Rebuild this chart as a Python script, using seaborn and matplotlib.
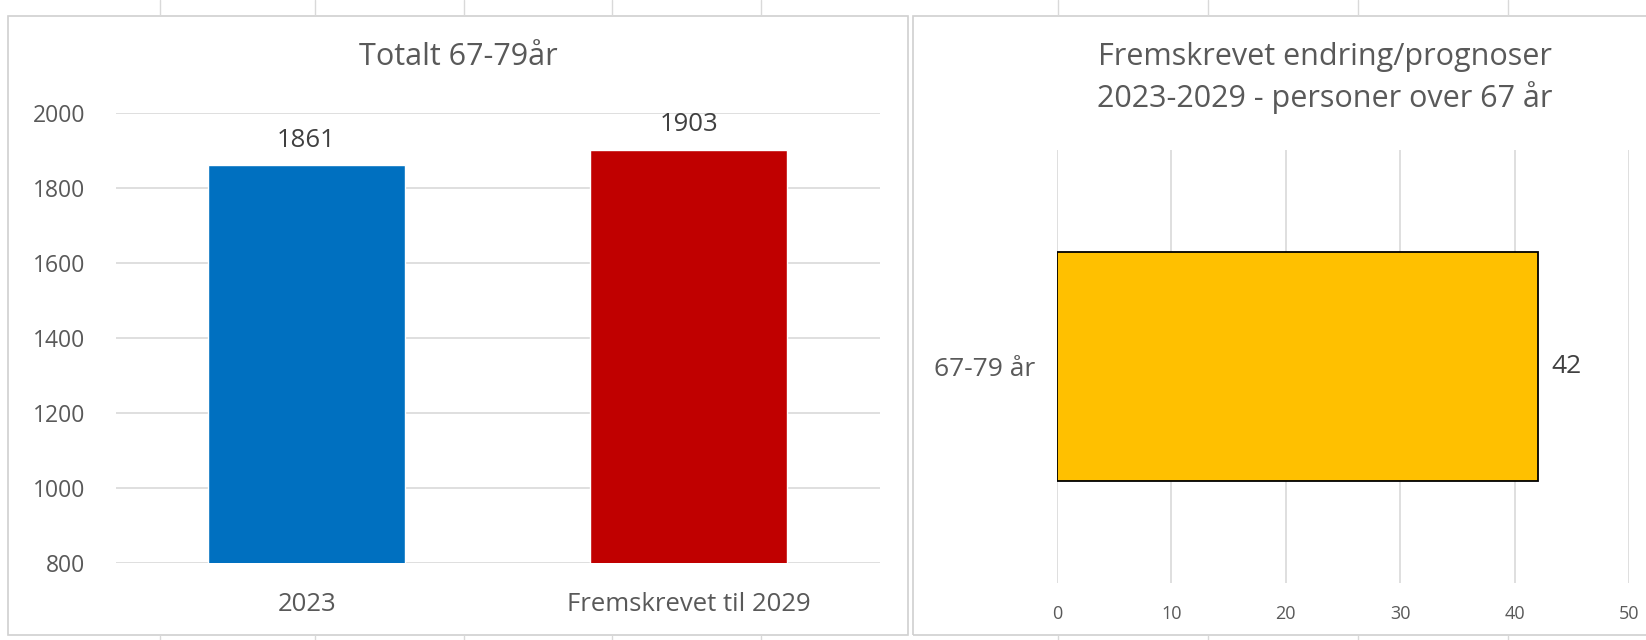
import matplotlib
matplotlib.use("Agg")
import matplotlib.pyplot as plt
import seaborn as sns
from matplotlib.lines import Line2D
from matplotlib.patches import Rectangle

# data
left_categories = ["2023", "Fremskrevet til 2029"]
left_values = [1861, 1903]
left_colors = ["#0070C0", "#C00000"]
left_yticks = [800, 1000, 1200, 1400, 1600, 1800, 2000]

right_categories = ["67-79 år"]
right_values = [42]
right_xticks = [0, 10, 20, 30, 40, 50]

sns.set_theme(style="white")
plt.rcParams["font.family"] = ["Open Sans", "DejaVu Sans"]

text_gray = "#595959"
grid_gray = "#D9D9D9"

fig = plt.figure(figsize=(16.46, 6.4), dpi=100)

# panel frames (excel chart areas) + spreadsheet cell lines
W, H = 1646, 640
def px(x, y):
    return x / W, 1 - y / H

for (x0, x1) in [(8, 908), (913, 1700)]:
    fig.add_artist(Rectangle(px(x0, 635), (x1 - x0) / W, (635 - 16) / H,
                             transform=fig.transFigure, fill=False,
                             edgecolor="#D0D0D0", linewidth=1.2))
for xc in [160, 315, 464, 612, 761, 1058, 1208, 1358, 1508]:
    for (ya, yb) in [(0, 15), (636, 640)]:
        fig.add_artist(Line2D([xc / W, xc / W], [1 - ya / H, 1 - yb / H],
                              transform=fig.transFigure, color="#D9D9D9", lw=1))

# ---- left chart
ax1 = fig.add_axes([0.0702, 0.1209, 0.4642, 0.7019])
sns.barplot(x=left_categories, y=left_values, hue=left_categories,
            palette=left_colors, width=0.515, legend=False, saturation=1, ax=ax1)
ax1.set_ylim(800, 2000)
ax1.set_yticks(left_yticks)
ax1.yaxis.grid(True, color=grid_gray, linewidth=1.2)
ax1.set_axisbelow(True)
for s in ax1.spines.values():
    s.set_visible(False)
ax1.tick_params(axis="y", length=0, labelsize=16.5, labelcolor=text_gray, pad=22)
ax1.tick_params(axis="x", length=0, labelsize=18.5, labelcolor=text_gray, pad=21)
ax1.set_xlabel("")
ax1.set_ylabel("")
for c in ax1.containers:
    ax1.bar_label(c, padding=9, fontsize=18.5, color="#404040")
fig.text(458 / W, 1 - 57 / H, "Totalt 67-79år", fontsize=22, color=text_gray,
         ha="center", va="center")

# ---- right chart
ax2 = fig.add_axes([0.6422, 0.0897, 0.3475, 0.6758])
sns.barplot(x=right_values, y=right_categories, orient="h", color="#FFC000",
            saturation=1, width=0.53, edgecolor="black", linewidth=1.3, ax=ax2)
ax2.set_xlim(0, 50)
ax2.set_xticks(right_xticks)
ax2.xaxis.grid(True, color=grid_gray, linewidth=1.2)
ax2.set_axisbelow(True)
for s in ax2.spines.values():
    s.set_visible(False)
ax2.tick_params(axis="x", length=0, labelsize=13, labelcolor=text_gray, pad=16)
ax2.tick_params(axis="y", length=0, labelsize=19, labelcolor=text_gray, pad=16)
ax2.set_xlabel("")
ax2.set_ylabel("")
ax2.bar_label(ax2.containers[0], padding=10, fontsize=19, color="#404040")
fig.text(1325 / W, 1 - 78 / H,
         "Fremskrevet endring/prognoser\n2023-2029 - personer over 67 år",
         fontsize=22, color=text_gray, ha="center", va="center", linespacing=1.35)

fig.savefig("out.png", dpi=100)
